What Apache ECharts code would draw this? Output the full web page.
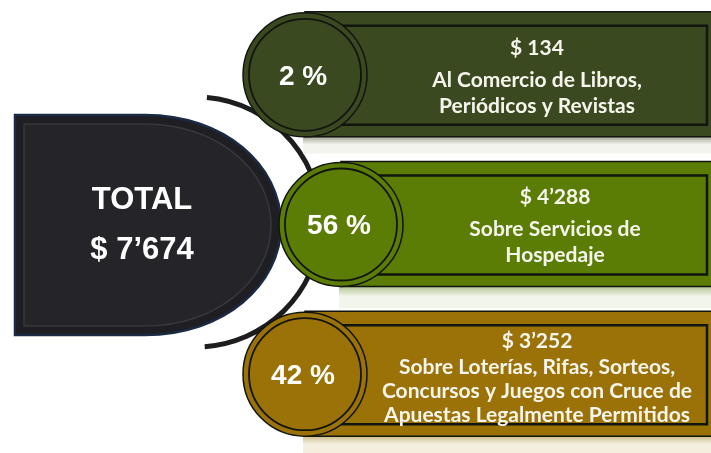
<!DOCTYPE html>
<html>
<head>
<meta charset="utf-8">
<script src="https://cdn.jsdelivr.net/npm/echarts@6/dist/echarts.min.js"></script>
<style>
  html, body { margin: 0; background: #fff; }
  #chart { width: 711px; height: 453px; }
</style>
</head>
<body>
<div id="chart"></div>
<script>
// data
const categories = ['Libros', 'Hospedaje', 'Loterías'];
const percents = [2, 56, 42];
const amounts = ['134', '4’288', '3’252'];
const labels = [
  ['Al Comercio de Libros,', 'Periódicos y Revistas'],
  ['Sobre Servicios de', 'Hospedaje'],
  ['Sobre Loterías, Rifas, Sorteos,', 'Concursos y Juegos con Cruce de', 'Apuestas Legalmente Permitidos']
];
const total = '7’674';

const colors = ['#3b4920', '#5b7d06', '#9a7207'];
const shadeColors = [['#a3a597', '#f4f4ef'], ['#b3c393', '#f2f6ea'], ['#cbbd8c', '#f3eedd']];

const chart = echarts.init(document.getElementById('chart'));

function renderRow(params, api) {
  const i = params.dataIndex;
  const cy = api.coord([0, api.value(1)])[1];
  const cx = 305 + (i === 1 ? 36 : 0);
  const r = 62;
  const right = 707;
  const color = colors[i];
  const lineCount = labels[i].length;
  const text = ['{a|$ ' + amounts[i] + '}'].concat(labels[i].map(l => '{b|' + l + '}')).join('\n');
  const dark = '#121410';
  const txt = '#f6f5ec';

  return {
    type: 'group',
    children: [
      // light shadow band under the bar
      {
        type: 'rect',
        shape: { x: cx - 2, y: cy + 62, width: 720 - cx, height: i === 1 ? 22 : 17 },
        style: {
          fill: {
            type: 'linear', x: 0, y: 0, x2: 0, y2: 1,
            colorStops: [
              { offset: 0, color: shadeColors[i][0] },
              { offset: 0.45, color: shadeColors[i][1] },
              { offset: 1, color: shadeColors[i][1] }
            ]
          }
        }
      },
      // outer bar
      {
        type: 'rect',
        shape: { x: cx, y: cy - 63, width: 730 - cx, height: 125 },
        style: { fill: color, stroke: dark, lineWidth: 1.5 }
      },
      // inner panel
      {
        type: 'rect',
        shape: { x: cx, y: cy - 49, width: right - cx, height: 99 },
        style: { fill: color, stroke: dark, lineWidth: 2.5 }
      },
      // circle
      {
        type: 'circle',
        shape: { cx: cx, cy: cy, r: r },
        style: { fill: color, stroke: dark, lineWidth: 1.5 }
      },
      {
        type: 'circle',
        shape: { cx: cx, cy: cy, r: r - 6 },
        style: { fill: 'none', stroke: dark, lineWidth: 1.8 }
      },
      {
        type: 'text',
        style: {
          x: cx - 2, y: cy + 2,
          text: percents[i] + ' %',
          align: 'center', verticalAlign: 'middle',
          fill: '#ffffff',
          font: 'bold 28px "Liberation Sans", Arial, sans-serif'
        }
      },
      {
        type: 'text',
        style: {
          x: (cx + r + right) / 2, y: cy + (lineCount > 2 ? 3 : -1),
          text: text,
          align: 'center', verticalAlign: 'middle',
          fill: txt,
          rich: {
            a: { fontFamily: 'Lato', fontWeight: 'bold', fontSize: 21, lineHeight: lineCount > 2 ? 29 : 38, fill: txt },
            b: { fontFamily: 'Lato', fontWeight: 'bold', fontSize: 21, lineHeight: lineCount > 2 ? 24 : 26, fill: txt }
          }
        }
      }
    ]
  };
}

function renderTotal(params, api) {
  return {
    type: 'group',
    children: [
      {
        type: 'path',
        shape: {
          pathData: 'M15,115 L145,115 C224,115 281,165 281,225 C281,285 224,335 145,335 L15,335 Z'
        },
        style: { fill: '#1f1e23', stroke: '#1a2a44', lineWidth: 2.5 }
      },
      {
        type: 'path',
        shape: {
          pathData: 'M24,124 L145,124 C217,124 271,170 271,225 C271,280 217,326 145,326 L24,326 Z'
        },
        style: { fill: '#252429', stroke: '#38373e', lineWidth: 1.5 }
      },
      {
        type: 'text',
        style: {
          x: 142, y: 225,
          text: 'TOTAL\n$ ' + total,
          align: 'center', verticalAlign: 'middle',
          fill: '#ffffff',
          font: 'bold 31px "Liberation Sans", Arial, sans-serif',
          lineHeight: 50
        }
      }
    ]
  };
}

const option = {
  backgroundColor: '#ffffff',
  animation: false,
  grid: { left: 0, right: 0, top: -4, bottom: 4 },
  xAxis: { type: 'value', min: 0, max: 100, show: false },
  yAxis: { type: 'category', data: categories, inverse: true, show: false },
  graphic: [
    // connecting arc
    {
      type: 'arc',
      z: 1,
      shape: { cx: 196, cy: 222, r: 125, startAngle: -85 * Math.PI / 180, endAngle: 86 * Math.PI / 180, clockwise: true },
      style: { fill: 'none', stroke: '#1d1d1f', lineWidth: 5, lineCap: 'butt' }
    }
  ],
  series: [
    {
      type: 'custom',
      coordinateSystem: 'none',
      z: 1,
      renderItem: renderTotal,
      data: [[7674]]
    },
    {
      type: 'custom',
      z: 2,
      renderItem: renderRow,
      encode: { x: 0, y: 1 },
      data: percents.map((p, i) => [p, categories[i]])
    }
  ]
};

chart.setOption(option);
</script>
</body>
</html>
